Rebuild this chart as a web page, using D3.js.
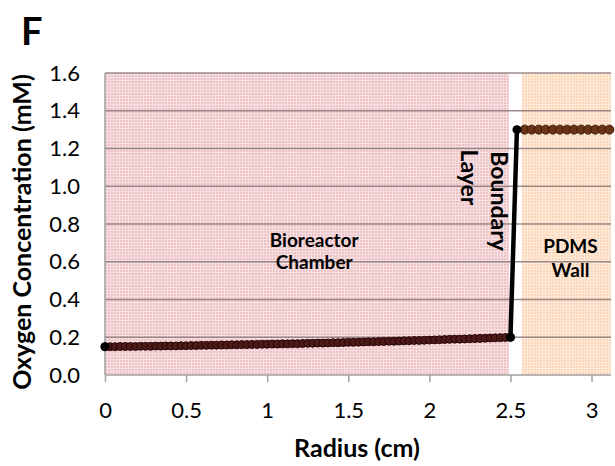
<!DOCTYPE html>
<html>
<head>
<meta charset="utf-8">
<script src="https://cdn.jsdelivr.net/npm/d3@7"></script>
<style>
  body { margin: 0; background: #fff; }
  svg { display: block; font-family: Lato, "Open Sans", sans-serif; }
</style>
</head>
<body>
<script>
// chamber profile, sampled every 2.5/80 cm
const chamberStep = 2.5 / 80;
const chamberConc = [
  0.150, 0.150, 0.150, 0.151, 0.151,
  0.151, 0.151, 0.152, 0.152,
  0.152, 0.153, 0.153, 0.154,
  0.154, 0.154, 0.155, 0.155,
  0.156, 0.156, 0.157, 0.157,
  0.158, 0.158, 0.159, 0.159,
  0.160, 0.160, 0.161, 0.161,
  0.162, 0.162, 0.163, 0.163,
  0.164, 0.164, 0.165, 0.165,
  0.166, 0.166, 0.167, 0.168,
  0.168, 0.169, 0.169, 0.170,
  0.171, 0.171, 0.172, 0.173,
  0.173, 0.174, 0.175, 0.176,
  0.176, 0.177, 0.178, 0.179,
  0.179, 0.180, 0.181, 0.182,
  0.183, 0.183, 0.184, 0.185,
  0.186, 0.187, 0.188, 0.189,
  0.190, 0.190, 0.191, 0.192,
  0.193, 0.194, 0.195, 0.196,
  0.197, 0.198, 0.199, 0.200
];

const pdmsRadius = [2.588, 2.631, 2.675, 2.718, 2.762, 2.805, 2.849, 2.892, 2.936, 2.979, 3.023, 3.066, 3.11];
const pdmsConc = [1.3, 1.3, 1.3, 1.3, 1.3, 1.3, 1.3, 1.3, 1.3, 1.3, 1.3, 1.3, 1.3];

const boundaryRadius = [2.5, 2.54];
const boundaryConc = [0.2, 1.3];

const regionNames = ["chamber", "pdms"];
const regionStart = [0, 2.57];
const regionEnd = [2.49, 3.12];

const xTicks = [0, 0.5, 1, 1.5, 2, 2.5, 3];
const yTicks = [0, 0.2, 0.4, 0.6, 0.8, 1.0, 1.2, 1.4, 1.6];

const chamber = chamberConc.map(function(c, i) { return { r: i * chamberStep, c: c }; });
const pdms = pdmsRadius.map(function(r, i) { return { r: r, c: pdmsConc[i] }; });
const boundary = boundaryRadius.map(function(r, i) { return { r: r, c: boundaryConc[i] }; });

const W = 615, H = 466;
const plot = { left: 105, right: 611, top: 73, bottom: 375 };

const x = d3.scaleLinear().domain([0, 3.12]).range([plot.left, plot.right]);
const y = d3.scaleLinear().domain([0, 1.6]).range([plot.bottom, plot.top]);

const svg = d3.select("body").append("svg").attr("width", W).attr("height", H);

// textured fills
const defs = svg.append("defs");
function texture(id, base, light) {
  const p = defs.append("pattern").attr("id", id).attr("patternUnits", "userSpaceOnUse")
    .attr("width", 3).attr("height", 3);
  p.append("rect").attr("width", 3).attr("height", 3).attr("fill", light);
  p.append("rect").attr("width", 2).attr("height", 2).attr("fill", base);
}
texture("pinkTex", "#edc3c7", "#f6dfe1");
texture("orangeTex", "#fdd8b8", "#feeadb");

const regionFill = { chamber: "url(#pinkTex)", pdms: "url(#orangeTex)" };

svg.append("g").selectAll("rect")
  .data(regionNames)
  .join("rect")
    .attr("x", function(d, i) { return x(regionStart[i]); })
    .attr("width", function(d, i) { return x(regionEnd[i]) - x(regionStart[i]); })
    .attr("y", y(1.6))
    .attr("height", y(0) - y(1.6))
    .attr("fill", function(d) { return regionFill[d]; });

// gridlines
svg.append("g").selectAll("line")
  .data(yTicks.filter(function(t) { return t > 0; }))
  .join("line")
    .attr("x1", plot.left).attr("x2", plot.right)
    .attr("y1", function(d) { return y(d); }).attr("y2", function(d) { return y(d); })
    .attr("stroke", "#8a7878").attr("stroke-opacity", 0.85).attr("stroke-width", 1.6);

// left border
svg.append("line")
  .attr("x1", plot.left).attr("x2", plot.left)
  .attr("y1", plot.top).attr("y2", plot.bottom)
  .attr("stroke", "#a0a0a0").attr("stroke-width", 1.5);

// x axis
const xAxis = d3.axisBottom(x).tickValues(xTicks).tickSize(7).tickPadding(20)
  .tickFormat(d3.format("~g"));
const gx = svg.append("g").attr("transform", "translate(0," + plot.bottom + ")").call(xAxis);
gx.select(".domain").attr("stroke", "#a0a0a0").attr("stroke-width", 1.5)
  .attr("d", "M" + plot.left + ",0H" + plot.right);
gx.selectAll(".tick line").attr("stroke", "#a0a0a0").attr("stroke-width", 1.5);
gx.selectAll(".tick text").attr("fill", "#000")
  .style("font-size", "22px").style("font-family", "Lato, sans-serif");

// y axis
const yAxis = d3.axisLeft(y).tickValues(yTicks).tickSize(0).tickPadding(25)
  .tickFormat(d3.format(".1f"));
const gy = svg.append("g").attr("transform", "translate(" + plot.left + ",0)").call(yAxis);
gy.select(".domain").remove();
gy.selectAll(".tick text").attr("fill", "#000")
  .style("font-size", "22px").style("font-family", "Lato, sans-serif");

// series
const line = d3.line().x(function(d) { return x(d.r); }).y(function(d) { return y(d.c); });

svg.append("path").datum(chamber).attr("d", line)
  .attr("fill", "none").attr("stroke", "#3a0c0c").attr("stroke-width", 2.5);
svg.append("g").selectAll("circle")
  .data(chamber)
  .join("circle")
    .attr("cx", function(d) { return x(d.r); })
    .attr("cy", function(d) { return y(d.c); })
    .attr("r", 4)
    .attr("fill", "#4d1a1a")
    .attr("stroke", "#2a0606")
    .attr("stroke-width", 1);

svg.append("path").datum(pdms).attr("d", line)
  .attr("fill", "none").attr("stroke", "#4a2410").attr("stroke-width", 2.5);
svg.append("g").selectAll("circle")
  .data(pdms)
  .join("circle")
    .attr("cx", function(d) { return x(d.r); })
    .attr("cy", function(d) { return y(d.c); })
    .attr("r", 4.5)
    .attr("fill", "#6a3416")
    .attr("stroke", "#3e1c08")
    .attr("stroke-width", 1);

svg.append("path").datum(boundary).attr("d", line)
  .attr("fill", "none").attr("stroke", "#000").attr("stroke-width", 4.5);
svg.append("g").selectAll("circle")
  .data([chamber[0]].concat(boundary))
  .join("circle")
    .attr("cx", function(d) { return x(d.r); })
    .attr("cy", function(d) { return y(d.c); })
    .attr("r", 4.5)
    .attr("fill", "#000");

// annotations
const note = svg.append("g").attr("font-weight", "bold").attr("font-size", 19)
  .attr("fill", "#000").attr("text-anchor", "middle");
note.append("text").attr("x", x(1.29)).attr("y", y(0.68)).text("Bioreactor");
note.append("text").attr("x", x(1.29)).attr("y", y(0.56)).text("Chamber");
note.append("text").attr("x", x(2.87)).attr("y", y(0.645)).text("PDMS");
note.append("text").attr("x", x(2.87)).attr("y", y(0.52)).text("Wall");

svg.append("text")
  .attr("transform", "translate(" + x(2.38) + "," + y(1.185) + ") rotate(90)")
  .attr("font-weight", "bold").attr("font-size", 23).text("Boundary");
svg.append("text")
  .attr("transform", "translate(" + x(2.194) + "," + y(1.195) + ") rotate(90)")
  .attr("font-weight", "bold").attr("font-size", 23).text("Layer");

// axis titles
svg.append("text")
  .attr("x", 357).attr("y", 457)
  .attr("text-anchor", "middle").attr("font-weight", "bold").attr("font-size", 25)
  .text("Radius (cm)");
svg.append("text")
  .attr("transform", "translate(31," + 232 + ") rotate(-90)")
  .attr("text-anchor", "middle").attr("font-weight", "bold").attr("font-size", 25)
  .text("Oxygen Concentration (mM)");

// panel letter
svg.append("text").attr("x", 21).attr("y", 45)
  .attr("font-weight", "bold").attr("font-size", 38).text("F");
</script>
</body>
</html>
